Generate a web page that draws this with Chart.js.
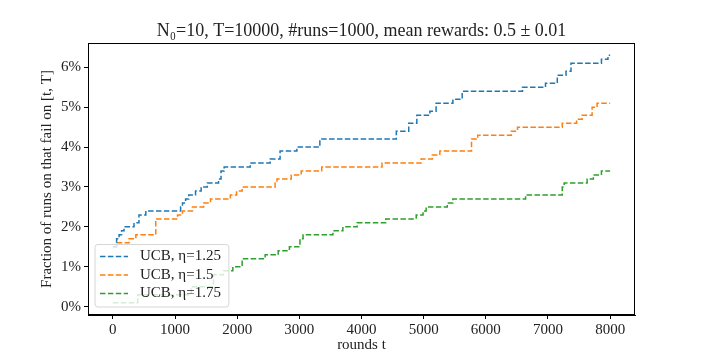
<!DOCTYPE html>
<html>
<head>
<meta charset="utf-8">
<script src="https://cdn.jsdelivr.net/npm/chart.js@4.4.1/dist/chart.umd.min.js"></script>
<style>
  html, body { margin: 0; padding: 0; background: #fff; }
  #wrap { width: 706px; height: 353px; }
</style>
</head>
<body>
<div id="wrap"><canvas id="chart"></canvas></div>
<script>
// Step curves: round t where the value jumps, value in %
const blueT = [0, 60, 100, 140, 180, 340, 420, 530, 1090, 1120, 1170, 1220, 1330, 1420, 1520, 1700, 1740, 1790, 2210, 2530, 2690, 2960, 3330, 4560, 4760, 4890, 5100, 5200, 5470, 5620, 6590, 6960, 7150, 7290, 7370, 7860, 7965, 8000];
const blueY = [1.5, 1.7, 1.8, 1.9, 2.0, 2.1, 2.3, 2.4, 2.5, 2.6, 2.7, 2.8, 2.9, 3.0, 3.1, 3.2, 3.4, 3.5, 3.6, 3.7, 3.9, 4.0, 4.2, 4.4, 4.6, 4.8, 4.9, 5.1, 5.2, 5.4, 5.5, 5.6, 5.8, 5.9, 6.1, 6.2, 6.3, 6.3];

const orangeT = [0, 60, 260, 370, 690, 1040, 1120, 1280, 1460, 1570, 1890, 1990, 2080, 2610, 2640, 2870, 3030, 3360, 4330, 4960, 5140, 5260, 5770, 5870, 6410, 6510, 7230, 7460, 7550, 7710, 7790, 8000];
const orangeY = [1.5, 1.6, 1.7, 1.8, 2.2, 2.3, 2.4, 2.5, 2.6, 2.7, 2.8, 2.9, 3.0, 3.1, 3.2, 3.3, 3.4, 3.5, 3.6, 3.7, 3.8, 3.9, 4.2, 4.3, 4.4, 4.5, 4.6, 4.7, 4.8, 5.0, 5.1, 5.1];

const greenT = [0, 400, 1260, 1620, 1780, 1930, 2080, 2450, 2660, 2840, 3010, 3060, 3540, 3700, 3930, 4390, 4880, 4990, 5040, 5380, 5470, 6640, 7230, 7260, 7630, 7730, 7860, 8000];
const greenY = [0.1, 0.3, 0.5, 0.8, 0.9, 1.0, 1.2, 1.3, 1.4, 1.5, 1.7, 1.8, 1.9, 2.0, 2.1, 2.2, 2.3, 2.4, 2.5, 2.6, 2.7, 2.8, 3.0, 3.1, 3.2, 3.3, 3.4, 3.4];

const seriesLabels = ['UCB, η=1.25', 'UCB, η=1.5', 'UCB, η=1.75'];
const xTicks = [0, 1000, 2000, 3000, 4000, 5000, 6000, 7000, 8000];
const yTicks = [0, 1, 2, 3, 4, 5, 6];
const titleText = 'N₀=10, T=10000, #runs=1000, mean rewards: 0.5 ± 0.01';

const colors = ['#1f77b4', '#ff7f0e', '#2ca02c'];
const serif = "'Liberation Serif', 'DejaVu Serif', serif";
const dash = [5.5, 2.4];

function toPoints(ts, ys) {
  return ts.map((t, i) => ({ x: t, y: ys[i] }));
}

// Frame around the plot area and the title centred over it (matplotlib style)
const frameBox = {
  id: 'frameBox',
  afterDraw(chart) {
    const { ctx, chartArea: a } = chart;
    ctx.save();
    ctx.strokeStyle = '#000';
    ctx.lineWidth = 1;
    ctx.strokeRect(a.left + 0.5, a.top + 0.5, a.right - a.left - 1, a.bottom - a.top - 1);

    ctx.font = '18px ' + serif;
    ctx.fillStyle = '#222';
    ctx.textAlign = 'center';
    ctx.textBaseline = 'middle';
    ctx.fillText(titleText, (a.left + a.right) / 2, 31);
    ctx.restore();
  }
};

// Legend inside the axes, lower left
const innerLegend = {
  id: 'innerLegend',
  afterDatasetsDraw(chart) {
    const { ctx, chartArea: a } = chart;
    ctx.save();
    ctx.font = '15px ' + serif;
    const textW = Math.max(...seriesLabels.map(s => ctx.measureText(s).width));
    const left = a.left + 7;
    const bottom = a.bottom - 8;
    const rowH = 18.5;
    const h = rowH * seriesLabels.length + 7;
    const w = 45 + textW + 8;
    const top = bottom - h;

    ctx.beginPath();
    ctx.roundRect(left, top, w, h, 3);
    ctx.fillStyle = 'rgba(255,255,255,0.8)';
    ctx.fill();
    ctx.strokeStyle = '#d6d6d6';
    ctx.lineWidth = 1;
    ctx.stroke();

    seriesLabels.forEach((label, i) => {
      const y = top + 12 + i * rowH;
      ctx.beginPath();
      ctx.setLineDash(dash);
      ctx.strokeStyle = colors[i];
      ctx.lineWidth = 1.5;
      ctx.moveTo(left + 5, y);
      ctx.lineTo(left + 33, y);
      ctx.stroke();
      ctx.setLineDash([]);
      ctx.fillStyle = '#222';
      ctx.textBaseline = 'middle';
      ctx.textAlign = 'left';
      ctx.fillText(label, left + 45, y);
    });
    ctx.restore();
  }
};

const series = [toPoints(blueT, blueY), toPoints(orangeT, orangeY), toPoints(greenT, greenY)];

new Chart(document.getElementById('chart'), {
  type: 'line',
  data: {
    datasets: series.map((pts, i) => ({
      label: seriesLabels[i],
      data: pts,
      borderColor: colors[i],
      backgroundColor: colors[i],
      borderWidth: 1.5,
      borderDash: dash,
      pointRadius: 0,
      stepped: 'before',
      fill: false
    }))
  },
  options: {
    responsive: true,
    maintainAspectRatio: false,
    animation: false,
    layout: { padding: { left: 0, right: 71, top: 43, bottom: 0 } },
    plugins: {
      legend: { display: false },
      tooltip: { enabled: false },
      title: { display: false }
    },
    scales: {
      x: {
        type: 'linear',
        min: -400,
        max: 8400,
        afterBuildTicks: s => { s.ticks = xTicks.map(v => ({ value: v })); },
        afterFit: s => { s.height = 38; },
        grid: { drawOnChartArea: false, drawTicks: true, tickLength: 4, color: '#000' },
        border: { display: true, color: '#000' },
        ticks: {
          color: '#222',
          padding: 2,
          maxRotation: 0,
          font: { family: serif, size: 15 },
          callback: v => String(v)
        },
        title: {
          display: true,
          text: 'rounds t',
          color: '#222',
          font: { family: serif, size: 15, lineHeight: 1 },
          padding: { top: 0, bottom: 0 }
        }
      },
      y: {
        type: 'linear',
        min: -0.21,
        max: 6.61,
        afterBuildTicks: s => { s.ticks = yTicks.map(v => ({ value: v })); },
        afterFit: s => { s.width = 88; },
        grid: { drawOnChartArea: false, drawTicks: true, tickLength: 4, color: '#000' },
        border: { display: true, color: '#000' },
        ticks: {
          color: '#222',
          padding: 3,
          font: { family: serif, size: 15 },
          callback: v => v + '%'
        },
        title: {
          display: true,
          text: 'Fraction of runs on that fail on [t, T]',
          color: '#222',
          font: { family: serif, size: 15, lineHeight: 1.2 },
          padding: { top: 38, bottom: 0 }
        }
      }
    }
  },
  plugins: [innerLegend, frameBox]
});
</script>
</body>
</html>
